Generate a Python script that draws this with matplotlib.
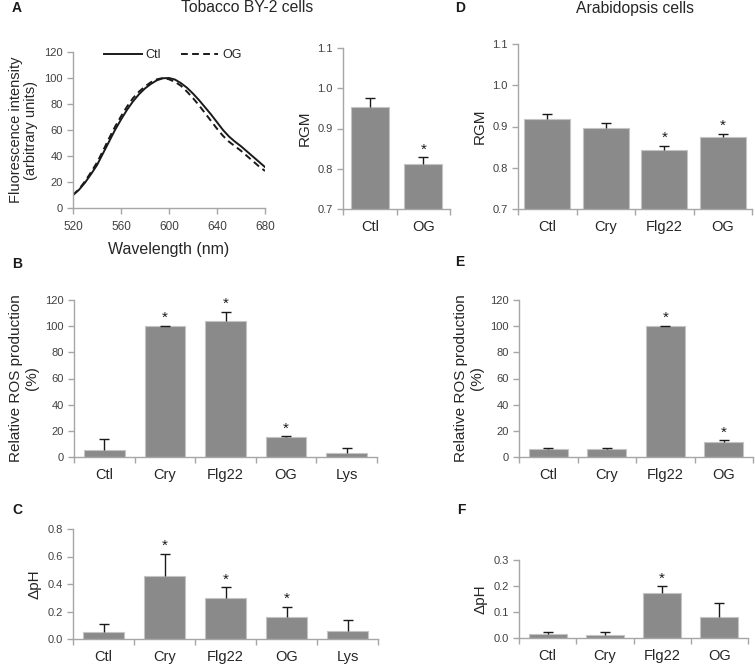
import numpy as np
import matplotlib
matplotlib.use("Agg")
import matplotlib.pyplot as plt

plt.rcParams['font.family'] = ['Liberation Sans', 'DejaVu Sans']

# --- Datos ---
# Panel A: espectros de fluorescencia
wavelength = [520, 525, 530, 535, 540, 545, 550, 555, 560, 565, 570, 575, 580,
              585, 590, 595, 600, 605, 610, 615, 620, 625, 630, 635, 640, 645,
              650, 655, 660, 665, 670, 675, 680]
spec_ctl = [10, 14, 19.5, 26, 33, 42, 51, 60, 68, 75.5, 82, 87.5, 92, 95.5, 98.3,
            99.8, 100, 98.8, 96, 92.5, 88, 83, 77.5, 72, 66, 60, 55, 51, 47.5,
            43.5, 39.5, 35.5, 31.5]
spec_og = [10, 14.5, 20.5, 27.5, 35, 44, 53.5, 62.5, 70.5, 78, 84.5, 89.5, 93.5,
           96.8, 99, 100, 99, 97, 94, 89.5, 84.5, 79, 73, 67, 61, 55.5, 51, 47.5,
           44, 40, 36, 32, 28.5]

# Panel A: RGM tabaco
rgm_tob_cat = ["Ctl", "OG"]
rgm_tob = [0.953, 0.813]
rgm_tob_err = [0.022, 0.015]
rgm_tob_sig = [False, True]

# Panel D: RGM Arabidopsis
rgm_ara_cat = ["Ctl", "Cry", "Flg22", "OG"]
rgm_ara = [0.918, 0.896, 0.843, 0.874]
rgm_ara_err = [0.012, 0.013, 0.010, 0.009]
rgm_ara_sig = [False, False, True, True]

# Panel B: ROS tabaco
ros_tob_cat = ["Ctl", "Cry", "Flg22", "OG", "Lys"]
ros_tob = [5.1, 100, 103.6, 15, 3.3]
ros_tob_err = [8.6, 0.5, 7.5, 0.8, 3.8]
ros_tob_sig = [False, True, True, True, False]

# Panel E: ROS Arabidopsis
ros_ara_cat = ["Ctl", "Cry", "Flg22", "OG"]
ros_ara = [5.9, 5.9, 100, 11.7]
ros_ara_err = [1.2, 1.0, 0.4, 1.3]
ros_ara_sig = [False, False, True, True]

# Panel C: pH tabaco
ph_tob_cat = ["Ctl", "Cry", "Flg22", "OG", "Lys"]
ph_tob = [0.053, 0.458, 0.298, 0.160, 0.058]
ph_tob_err = [0.059, 0.162, 0.080, 0.075, 0.080]
ph_tob_sig = [False, True, True, True, False]

# Panel F: pH Arabidopsis
ph_ara_cat = ["Ctl", "Cry", "Flg22", "OG"]
ph_ara = [0.014, 0.013, 0.172, 0.081]
ph_ara_err = [0.009, 0.010, 0.028, 0.055]
ph_ara_sig = [False, False, True, False]

# --- Estilo ---
W, H = 755, 665
BAR = '#8a8a8a'
EDGE = '#c4c4c4'
AXC = '#a6a6a6'
TXT = '#404040'


def rect(x0, y0, x1, y1):
    # coordenadas en pixeles (origen arriba a la izquierda) -> fraccion de figura
    return [x0 / W, 1 - y1 / H, (x1 - x0) / W, (y1 - y0) / H]


def style_axes(ax):
    for s in ['top', 'right']:
        ax.spines[s].set_visible(False)
    for s in ['left', 'bottom']:
        ax.spines[s].set_color(AXC)
        ax.spines[s].set_linewidth(1.0)
    ax.tick_params(axis='both', colors=AXC, labelcolor=TXT, labelsize=8,
                   length=4, width=1.0, direction='out')


def bar_panel(ax, cats, vals, errs, sig, width, ylim, yticks, yfmt, ylabel):
    x = np.arange(len(cats))
    ax.bar(x, vals, width=width, color=BAR, edgecolor=EDGE, linewidth=0.8, zorder=2)
    _, caps, _ = ax.errorbar(x, vals, yerr=[np.zeros(len(vals)), errs], fmt='none',
                             ecolor='#1a1a1a', elinewidth=1.0, capsize=3.5,
                             capthick=1.0, zorder=3)
    # solo la barra superior
    caps[0].set_visible(False)
    for i, s in enumerate(sig):
        if s:
            ax.annotate('*', (x[i], vals[i] + errs[i]), xytext=(0, 0.5),
                        textcoords='offset points', ha='center', va='bottom',
                        fontsize=11, color='#1a1a1a')
    style_axes(ax)
    ax.set_xlim(-0.5, len(cats) - 0.5)
    ax.set_ylim(*ylim)
    ax.set_yticks(yticks)
    ax.set_yticklabels([yfmt.format(v) for v in yticks])
    # marcas entre categorias, etiquetas centradas
    ax.set_xticks(np.arange(len(cats) + 1) - 0.5)
    ax.set_xticklabels([])
    ax.set_xticks(x, minor=True)
    ax.set_xticklabels(cats, minor=True, fontsize=10.5, color='#262626')
    ax.tick_params(axis='x', which='minor', length=0, pad=8)
    ax.set_ylabel(ylabel, fontsize=11, color='#262626')


fig = plt.figure(figsize=(W / 100, H / 100), dpi=100)

# --- Panel A: espectro ---
axA = fig.add_axes(rect(73, 52, 265, 208))
axA.plot(wavelength, spec_ctl, color='#1a1a1a', lw=1.4, label='Ctl')
axA.plot(wavelength, spec_og, color='#1a1a1a', lw=1.4, ls=(0, (3.5, 2.2)), label='OG')
style_axes(axA)
axA.set_xlim(520, 680)
axA.set_ylim(0, 120)
axA.set_xticks([520, 560, 600, 640, 680])
axA.set_yticks([0, 20, 40, 60, 80, 100, 120])
axA.tick_params(axis='x', labelsize=8.5, pad=5)
axA.set_xlabel('Wavelength (nm)', fontsize=11.5, color='#262626', labelpad=7)
axA.set_ylabel('Fluorescence intensity\n(arbitrary units)', fontsize=10.5,
               color='#262626', linespacing=1.1)
leg = axA.legend(loc='center', bbox_to_anchor=(0.52, 0.98), ncol=2, frameon=False,
                 fontsize=9, handlelength=3.0, columnspacing=1.6, handletextpad=0.3)
for t in leg.get_texts():
    t.set_color('#262626')

# --- Panel A: RGM tabaco ---
axA2 = fig.add_axes(rect(343, 48, 450, 209))
bar_panel(axA2, rgm_tob_cat, rgm_tob, rgm_tob_err, rgm_tob_sig, 0.71,
          (0.7, 1.1), [0.7, 0.8, 0.9, 1.0, 1.1], '{:.1f}', 'RGM')

# --- Panel D: RGM Arabidopsis ---
axD = fig.add_axes(rect(518, 44, 752, 209))
bar_panel(axD, rgm_ara_cat, rgm_ara, rgm_ara_err, rgm_ara_sig, 0.78,
          (0.7, 1.1), [0.7, 0.8, 0.9, 1.0, 1.1], '{:.1f}', 'RGM')

# --- Panel B: ROS tabaco ---
axB = fig.add_axes(rect(74, 300, 377, 457))
bar_panel(axB, ros_tob_cat, ros_tob, ros_tob_err, ros_tob_sig, 0.67,
          (0, 120), [0, 20, 40, 60, 80, 100, 120], '{:.0f}',
          'Relative ROS production\n(%)')

# --- Panel E: ROS Arabidopsis ---
axE = fig.add_axes(rect(519, 300, 753, 457))
bar_panel(axE, ros_ara_cat, ros_ara, ros_ara_err, ros_ara_sig, 0.66,
          (0, 120), [0, 20, 40, 60, 80, 100, 120], '{:.0f}',
          'Relative ROS production\n(%)')

# --- Panel C: pH tabaco ---
axC = fig.add_axes(rect(73, 529, 378, 639))
bar_panel(axC, ph_tob_cat, ph_tob, ph_tob_err, ph_tob_sig, 0.67,
          (0, 0.8), [0.0, 0.2, 0.4, 0.6, 0.8], '{:.1f}', 'ΔpH')

# --- Panel F: pH Arabidopsis ---
axF = fig.add_axes(rect(519, 560, 748, 638))
bar_panel(axF, ph_ara_cat, ph_ara, ph_ara_err, ph_ara_sig, 0.66,
          (0, 0.3), [0.0, 0.1, 0.2, 0.3], '{:.1f}', 'ΔpH')

# --- Titulos y letras ---
def ftext(x, y, s, **kw):
    fig.text(x / W, 1 - y / H, s, va='center', **kw)

ftext(17, 8, 'A', ha='center', fontsize=10, fontweight='bold', color='#1a1a1a')
ftext(247, 8, 'Tobacco BY-2 cells', ha='center', fontsize=11.3, color='#262626')
ftext(460, 8, 'D', ha='center', fontsize=10, fontweight='bold', color='#1a1a1a')
ftext(635, 8, 'Arabidopsis cells', ha='center', fontsize=11.3, color='#262626')
ftext(17, 264, 'B', ha='center', fontsize=10, fontweight='bold', color='#1a1a1a')
ftext(460, 262, 'E', ha='center', fontsize=10, fontweight='bold', color='#1a1a1a')
ftext(17, 510, 'C', ha='center', fontsize=10, fontweight='bold', color='#1a1a1a')
ftext(461, 510, 'F', ha='center', fontsize=10, fontweight='bold', color='#1a1a1a')

fig.savefig('out.png', dpi=100)
